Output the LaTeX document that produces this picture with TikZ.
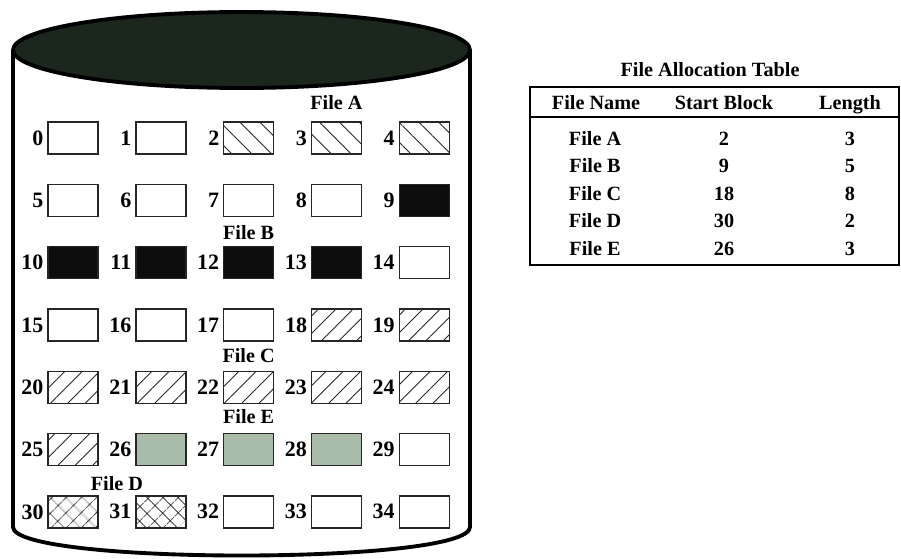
\documentclass[tikz,border=0pt]{standalone}
\usepackage{fontspec}
\setmainfont{Liberation Serif}
\usetikzlibrary{positioning, calc, patterns.meta}
\definecolor{disktop}{HTML}{1B261C}
\definecolor{fileEfill}{HTML}{A9BCA9}
\definecolor{hatch}{HTML}{262626}

\begin{document}
\begin{tikzpicture}[
    x=0.02cm, y=-0.02cm,
    disk/.style={line width=2.2pt, line join=round},
    block/.style={rectangle, draw=black!85, line width=0.8pt, minimum width=1cm, minimum height=0.64cm, inner sep=0pt},
    blkfree/.style={fill=white},
    blka/.style={pattern={Lines[angle=-45, distance=8pt, line width=0.5pt]}, pattern color=hatch},
    blkb/.style={fill=black!95},
    blkc/.style={pattern={Lines[angle=45, distance=7pt, line width=0.5pt]}, pattern color=hatch},
    blkd/.style={pattern={Hatch[angle=45, distance=6.5pt, line width=0.5pt]}, pattern color=hatch},
    blke/.style={fill=fileEfill},
    num/.style={font=\bfseries\fontsize{12.5}{13}\selectfont, inner sep=0pt},
    flabel/.style={font=\bfseries\fontsize{11.5}{12}\selectfont, inner sep=0pt},
    tcell/.style={font=\bfseries\fontsize{11.5}{12}\selectfont, inner sep=0pt, anchor=base},
]
\useasboundingbox (0,0) rectangle (901,558);

% Disk body
\draw[disk] (13,50) -- (13,527) .. controls (13,565) and (470,565) .. (470,527) -- (470,50);
\draw[disk, fill=disktop] (241.5,50) ellipse [x radius=4.57cm, y radius=0.76cm];

% Blocks 0-34
\foreach \i/\kind in {0/blkfree, 1/blkfree, 2/blka, 3/blka, 4/blka,
                      5/blkfree, 6/blkfree, 7/blkfree, 8/blkfree, 9/blkb,
                      10/blkb, 11/blkb, 12/blkb, 13/blkb, 14/blkfree,
                      15/blkfree, 16/blkfree, 17/blkfree, 18/blkc, 19/blkc,
                      20/blkc, 21/blkc, 22/blkc, 23/blkc, 24/blkc,
                      25/blkc, 26/blke, 27/blke, 28/blke, 29/blkfree,
                      30/blkd, 31/blkd, 32/blkfree, 33/blkfree, 34/blkfree} {
  \pgfmathtruncatemacro\col{mod(\i,5)}
  \pgfmathtruncatemacro\row{div(\i,5)}
  \node[block, \kind] (b\i) at ({73+87.8*\col},{138+62.3*\row}) {};
  \node[num, left=2pt of b\i] (n\i) {\i};
}

% File labels
\node[flabel, above=6.5pt of b3] (labA) {File A};
\node[flabel, above=3.5pt of b12] (labB) {File B};
\node[flabel, above=4pt of b22] (labC) {File C};
\node[flabel, above=5pt of b27] (labE) {File E};
\node[flabel, anchor=south] (labD) at ($(b30.north)!0.5!(b31.north)+(0,-4)$) {File D};

% File allocation table
\node[font=\bfseries\fontsize{11.5}{12}\selectfont] (fattitle) at (710,70) {File Allocation Table};
\draw[line width=1.1pt] (530,87) rectangle (899,265);
\draw[line width=1pt] (530,117) -- (899,117);
\node[tcell] (hname) at (596,109) {File Name};
\node[tcell] (hstart) at (724,109) {Start Block};
\node[tcell] (hlen) at (850,109) {Length};
\foreach \f/\s/\l [count=\r] in {A/2/3, B/9/5, C/18/8, D/30/2, E/26/3} {
  \node[tcell] (tname\r) at (595,{117.5+27.5*\r}) {File \f};
  \node[tcell] (tstart\r) at (724,{117.5+27.5*\r}) {\s};
  \node[tcell] (tlen\r) at (850,{117.5+27.5*\r}) {\l};
}

\end{tikzpicture}
\end{document}
